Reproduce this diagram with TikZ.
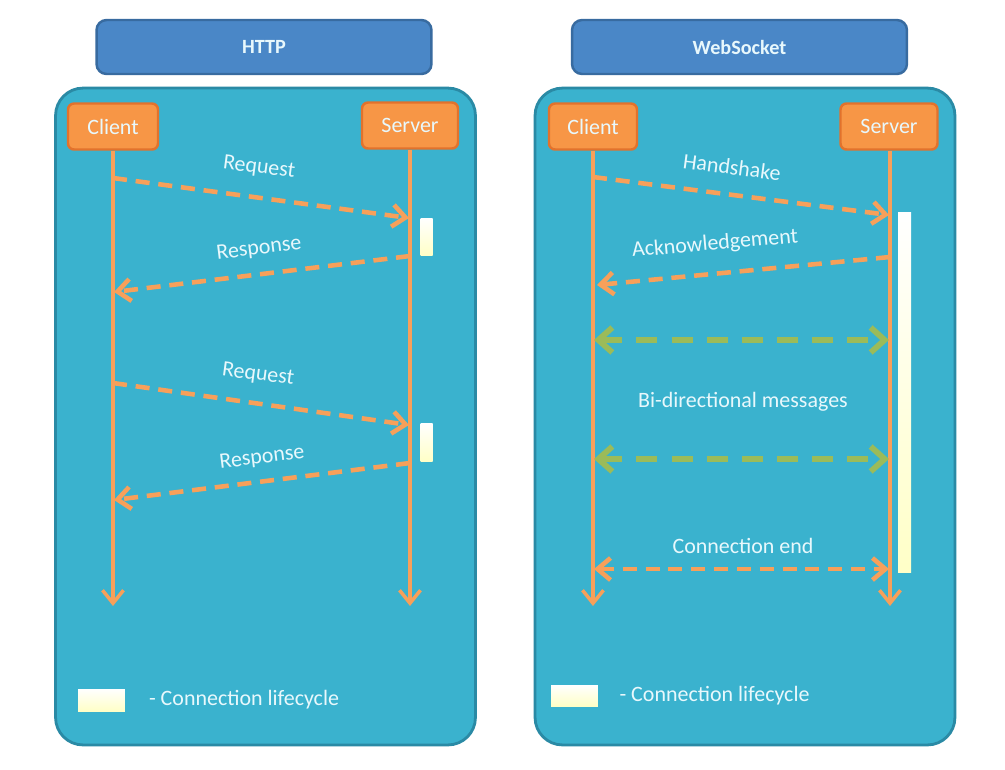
\documentclass[tikz,border=0pt]{standalone}
\usepackage{fontspec}
\setmainfont{Carlito}
\usetikzlibrary{arrows.meta}
\usetikzlibrary{positioning}
\definecolor{panelfill}{HTML}{3AB2CE}
\definecolor{paneldraw}{HTML}{2A8AA5}
\definecolor{titlefill}{HTML}{4A87C7}
\definecolor{titledraw}{HTML}{386BA0}
\definecolor{actorfill}{HTML}{F79646}
\definecolor{actordraw}{HTML}{E2722C}
\definecolor{msgorange}{HTML}{F7A05A}
\definecolor{msggreen}{HTML}{9BBB59}
\definecolor{labeltext}{HTML}{E8F8FC}
\tikzset{
	panel/.style={draw=paneldraw, line width=1.6pt, fill=panelfill, rounded corners=0.55cm,
		minimum width=8.4cm, minimum height=13.14cm},
	titlebox/.style={draw=titledraw, line width=1.4pt, fill=titlefill, rounded corners=0.2cm,
		minimum width=6.7cm, minimum height=1.08cm, text=labeltext, font=\fontsize{11.5}{13}\selectfont\bfseries},
	actor/.style={draw=actordraw, line width=1.4pt, fill=actorfill, rounded corners=0.12cm,
		minimum height=0.92cm, text=labeltext, font=\fontsize{12.5}{14}\selectfont},
	lifeline/.style={draw=msgorange, line width=2pt, -{Straight Barb[length=2.6mm, width=4.2mm]}},
	msg/.style={draw=msgorange, line width=2.6pt, dash pattern=on 8pt off 5pt,
		-{Straight Barb[length=2.6mm, width=4.4mm]}},
	bimsg/.style={draw=msggreen, line width=3.3pt, dash pattern=on 12pt off 8pt,
		{Straight Barb[length=2.8mm, width=5mm]}-{Straight Barb[length=2.8mm, width=5mm]}},
	endmsg/.style={msg, {Straight Barb[length=2.6mm, width=4.4mm]}-{Straight Barb[length=2.6mm, width=4.4mm]}},
	lifebar/.style={draw=none, top color=white, bottom color=yellow!22, inner sep=0pt},
	msglabel/.style={text=labeltext, font=\fontsize{12.5}{14}\selectfont},
}

\begin{document}
\begin{tikzpicture}[x=0.02cm, y=-0.02cm]
	\fill[white] (0,0) rectangle (1005,769);
	\useasboundingbox (0,0) rectangle (1005,769);

	% HTTP side
	\node[titlebox] (httptitle) at (264,47) {HTTP};
	\node[panel] (httppanel) at (265.5,416.5) {};
	\node[actor, minimum width=1.8cm] (hclient) at (113,126.5) {Client};
	\node[actor, minimum width=1.92cm] (hserver) at (410,125.5) {Server};
	\coordinate (hclientend) at (113,606);
	\coordinate (hserverend) at (410,606);
	\draw[lifeline] (hclient.south) -- (hclientend);
	\draw[lifeline] (hserver.south) -- (hserverend);

	\coordinate (hc1) at (113,178);  \coordinate (hs1) at (409,218);
	\coordinate (hs2) at (410,256);  \coordinate (hc2) at (114,292);
	\coordinate (hc3) at (113,383);  \coordinate (hs3) at (409,425);
	\coordinate (hs4) at (410,463);  \coordinate (hc4) at (114,500);
	\draw[msg] (hc1) -- (hs1);
	\draw[msg] (hs2) -- (hc2);
	\draw[msg] (hc3) -- (hs3);
	\draw[msg] (hs4) -- (hc4);
	\node[msglabel, rotate=-7.5] (hreq1) at (259,168) {Request};
	\node[msglabel, rotate=7] (hres1) at (259,249) {Response};
	\node[msglabel, rotate=-7.5] (hreq2) at (258,375) {Request};
	\node[msglabel, rotate=7] (hres2) at (262,458) {Response};
	\node[lifebar, minimum width=0.24cm, minimum height=0.74cm] (hbar1) at (426.5,236.5) {};
	\node[lifebar, minimum width=0.24cm, minimum height=0.76cm] (hbar2) at (426.5,442) {};

	\node[lifebar, minimum width=0.94cm, minimum height=0.44cm] (hlegend) at (101.5,700) {};
	\node[msglabel, anchor=west, right=0.35cm of hlegend] (hlegendtext) {- Connection lifecycle};

	% WebSocket side
	\node[titlebox] (wstitle) at (739.5,47) {WebSocket};
	\node[panel] (wspanel) at (745,416.5) {};
	\node[actor, minimum width=1.76cm] (wclient) at (593,126.5) {Client};
	\node[actor, minimum width=1.94cm] (wserver) at (889,126.5) {Server};
	\coordinate (wclientend) at (593,606);
	\coordinate (wserverend) at (890,606);
	\draw[lifeline] (wclient.south) -- (wclientend);
	\draw[lifeline] (wserver.south -| wserverend) -- (wserverend);

	\node[lifebar, minimum width=0.26cm, minimum height=7.22cm] (wbar) at (904.5,392.5) {};

	\coordinate (wc1) at (593,177);  \coordinate (ws1) at (889,215);
	\coordinate (ws2) at (890,257);  \coordinate (wc2) at (597,285);
	\coordinate (wc3) at (594,340);  \coordinate (ws3) at (889,340);
	\coordinate (wc4) at (594,459);  \coordinate (ws4) at (889,459);
	\coordinate (wc5) at (594,569);  \coordinate (ws5) at (889,569);
	\draw[msg] (wc1) -- (ws1);
	\draw[msg] (ws2) -- (wc2);
	\draw[bimsg] (wc3) -- (ws3);
	\draw[bimsg] (wc4) -- (ws4);
	\draw[endmsg] (wc5) -- (ws5);
	\node[msglabel, rotate=-7.5] (whand) at (732,167) {Handshake};
	\node[msglabel, rotate=5] (wack) at (715,244) {Acknowledgement};
	\node[msglabel] (wbidir) at (743,402) {Bi-directional messages};
	\node[msglabel] (wend) at (743,546) {Connection end};

	\node[lifebar, minimum width=0.94cm, minimum height=0.42cm] (wlegend) at (574.5,695.5) {};
	\node[msglabel, anchor=west, right=0.3cm of wlegend] (wlegendtext) {- Connection lifecycle};
\end{tikzpicture}
\end{document}
